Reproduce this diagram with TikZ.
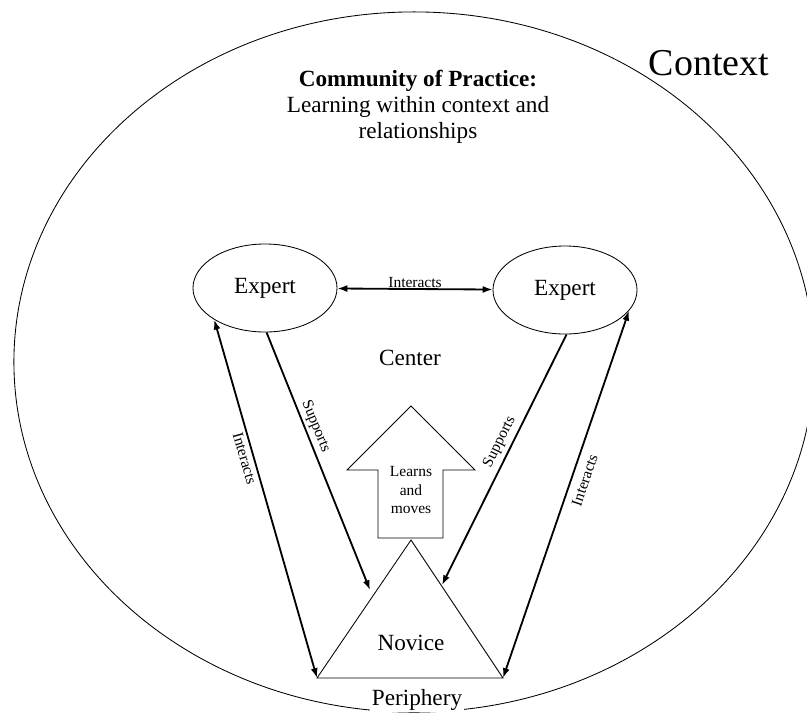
\documentclass[tikz,border=0pt]{standalone}
\usepackage{fontspec}
\setmainfont{Liberation Serif}
\usepackage{tikz}
\usetikzlibrary{arrows.meta}
\usetikzlibrary{shapes}
\usetikzlibrary{positioning}

\tikzset{
	expert/.style	= {draw, ellipse, line width=0.6pt, minimum width=3.6cm, minimum height=2.2cm, inner sep=0pt, font=\fontsize{16.5}{19}\selectfont},
	txt/.style		= {font=\fontsize{16.5}{18.3}\selectfont},
	twoway/.style	= {line width=1.3pt, {Latex[length=7pt,width=5pt]}-{Latex[length=7pt,width=5pt]}},
	oneway/.style	= {line width=1.3pt, -{Latex[length=7pt,width=5pt]}},
	lbl/.style		= {font=\fontsize{11}{13}\selectfont, sloped, inner sep=2pt},
}

\begin{document}
\begin{tikzpicture}[x=0.025cm, y=-0.025cm]
	\useasboundingbox (0,0) rectangle (807,713);

	\node(Context)		[draw, ellipse, line width=0.6pt, minimum width=20cm, minimum height=17.5cm] at (414,362) {};
	\node(ContextLbl)	[font=\fontsize{27}{30}\selectfont] at (709,63) {Context};
	\node(CoP)			[txt, align=center] at (418,107) {\textbf{Community of Practice:}\\Learning within context and\\relationships};

	\node(ExpertL)		[expert] at (265,288) {Expert};
	\node(ExpertR)		[expert] at (565,290) {Expert};
	\node(Center)		[txt] at (410,358) {Center};

	\draw[line width=0.6pt] (378,538) -- (378,470) -- (347,470) -- (411,406) -- (475,470) -- (443,470) -- (443,538) -- cycle;
	\node(Learns)		[align=center, font=\fontsize{11}{13.2}\selectfont] at (411,490) {Learns\\and\\moves};

	\coordinate(NovL) at (317,678);
	\coordinate(NovR) at (503,678);
	\coordinate(NovT) at (411,540);
	\draw[line width=0.6pt] (NovL) -- (NovR) -- (NovT) -- cycle;
	\node(Novice)		[txt] at (411,643) {Novice};
	\node(Periphery)	[txt, fill=white, inner sep=1pt] at (417,700) {Periphery};

	\coordinate(SupL) at (370,590);
	\coordinate(SupR) at (442,585);

	\draw[twoway] (ExpertL) -- (ExpertR) node[lbl, midway, above, inner sep=0.5pt] {Interacts};
	\draw[twoway] (NovL) -- (ExpertL.212) node[lbl, pos=0.62, below] {Interacts};
	\draw[oneway] (ExpertL.272) -- (SupL) node[lbl, pos=0.38, above] {Supports};
	\draw[oneway] (ExpertR.272) -- (SupR) node[lbl, pos=0.45, above, inner sep=3pt] {Supports};
	\draw[twoway] (NovR) -- (ExpertR.342) node[lbl, pos=0.55, below, inner sep=5pt] {Interacts};
\end{tikzpicture}
\end{document}
